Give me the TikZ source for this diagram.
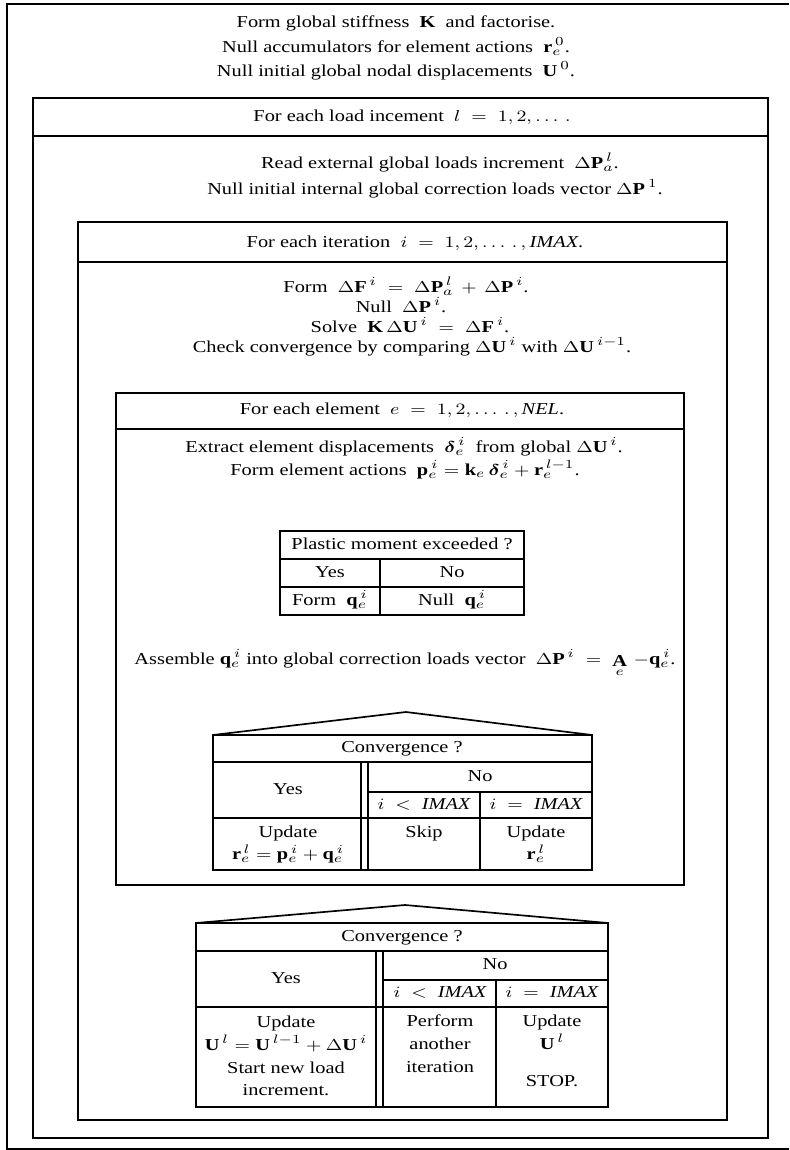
\documentclass[tikz,border=0pt]{standalone}
\usepackage{amsmath}
\usepackage{graphicx}
\usepackage{fontspec}
\setmainfont{Liberation Serif}
\newcommand{\bsy}[1]{\mathbf{#1}}
% the printed type is wide: stretch each text sideways
\newcommand{\wtxt}[1]{\scalebox{1.22}[1]{\begin{tabular}{@{}c@{}}#1\end{tabular}}}

\begin{document}
\begin{tikzpicture}[x=0.02cm,y=-0.02cm,
  frame/.style={line width=0.95pt},
  txt/.style={inner sep=1pt,font=\fontsize{9.5}{13}\selectfont,align=center}]
\useasboundingbox (0,0) rectangle (789,1150);
% nested loop boxes (outer one runs off the right edge)
\draw[frame] (789,4) -- (7,4) -- (7,1149) -- (789,1149);
\draw[frame] (33,98) rectangle (768,1138);
\draw[frame] (33,136) -- (768,136);
\draw[frame] (78,222) rectangle (727,1120);
\draw[frame] (78,262) -- (727,262);
\draw[frame] (116,393) rectangle (684,885);
\draw[frame] (116,429) -- (684,429);
% plastic moment table
\draw[frame] (280,531) rectangle (524,615);
\draw[frame] (280,559) -- (524,559) (280,587) -- (524,587) (380,559) -- (380,615);
% element convergence table
\draw[frame] (213,735) rectangle (592,870);
\draw[frame] (213,735) -- (406,712) -- (592,735);
\draw[frame] (213,762) -- (592,762) (213,818) -- (592,818);
\draw[frame] (361,762) -- (361,870) (368,762) -- (368,870);
\draw[frame] (368,792) -- (592,792) (480,792) -- (480,870);
% iteration convergence table
\draw[frame] (196,923) rectangle (608,1107);
\draw[frame] (196,923) -- (405,905) -- (608,923);
\draw[frame] (196,951) -- (608,951) (196,1007) -- (608,1007);
\draw[frame] (376,951) -- (376,1107) (383,951) -- (383,1107);
\draw[frame] (383,980) -- (608,980) (496,980) -- (496,1107);

% text
\node[txt] (init1) at (396,23) {\wtxt{Form global stiffness \ $\bsy{K}$ \ and factorise.}};
\node[txt] (init2) at (396,48) {\wtxt{Null accumulators for element actions \ $\bsy{r}_e^{\,0}$.}};
\node[txt] (init3) at (396,72) {\wtxt{Null initial global nodal displacements \ $\bsy{U}^{\,0}$.}};
\node[txt] (loadhd) at (412,117) {\wtxt{For each load incement \ $l \;=\; 1, 2, \ldots\,.$}};
\node[txt] (load1) at (440,164) {\wtxt{Read external global loads increment \ $\Delta\bsy{P}_a^{\,l}$.}};
\node[txt] (load2) at (435,190) {\wtxt{Null initial internal global correction loads vector $\Delta\bsy{P}^{\,1}$.}};
\node[txt] (iterhd) at (415,243) {\wtxt{For each iteration \ $i \;=\; 1, 2, \ldots\,.\,, \mathit{IMAX}$.}};
\node[txt] (iter1) at (406,288) {\wtxt{Form \ $\Delta\bsy{F}^{\,i} \;=\; \Delta\bsy{P}_a^{\,l} \,+\, \Delta\bsy{P}^{\,i}$.}};
\node[txt] (iter2) at (401,308) {\wtxt{Null \ $\Delta\bsy{P}^{\,i}$.}};
\node[txt] (iter3) at (410,328) {\wtxt{Solve \ $\bsy{K}\,\Delta\bsy{U}^{\,i} \;=\; \Delta\bsy{F}^{\,i}$.}};
\node[txt] (iter4) at (412,348) {\wtxt{Check convergence by comparing $\Delta\bsy{U}^{\,i}$ with $\Delta\bsy{U}^{\,i-1}$.}};
\node[txt] (elemhd) at (402,410) {\wtxt{For each element \ $e \;=\; 1, 2, \ldots\,.\,, \mathit{NEL}$.}};
\node[txt] (elem1) at (404,448) {\wtxt{Extract element displacements \ $\boldsymbol{\delta}_e^{\,i}$ \ from global $\Delta\bsy{U}^{\,i}$.}};
\node[txt] (elem2) at (405,471) {\wtxt{Form element actions \ $\bsy{p}_e^{\,i} = \bsy{k}_e\,\boldsymbol{\delta}_e^{\,i} + \bsy{r}_e^{\,l-1}$.}};
\node[txt] (pmq) at (402,545) {\wtxt{Plastic moment exceeded ?}};
\node[txt] (pmyes) at (330,573) {\wtxt{Yes}};
\node[txt] (pmno) at (452,573) {\wtxt{No}};
\node[txt] (pmform) at (330,601) {\wtxt{Form \ $\bsy{q}_e^{\,i}$}};
\node[txt] (pmnull) at (452,601) {\wtxt{Null \ $\bsy{q}_e^{\,i}$}};
\node[txt] (assem) at (405,663) {\wtxt{Assemble $\bsy{q}_e^{\,i}$ into global correction loads vector \ $\Delta\bsy{P}^{\,i} \;=\; \mathop{\bsy{A}}\limits_{e}\, -\bsy{q}_e^{\,i}$.}};
\node[txt] (cv1q) at (402,748) {\wtxt{Convergence ?}};
\node[txt] (cv1yes) at (288,790) {\wtxt{Yes}};
\node[txt] (cv1no) at (480,777) {\wtxt{No}};
\node[txt] (cv1lt) at (424,805) {\wtxt{$i \;<\; \mathit{IMAX}$}};
\node[txt] (cv1eq) at (536,805) {\wtxt{$i \;=\; \mathit{IMAX}$}};
\node[txt] (cv1a) at (288,844) {\wtxt{Update\\$\bsy{r}_e^{\,l} = \bsy{p}_e^{\,i} + \bsy{q}_e^{\,i}$}};
\node[txt] (cv1b) at (424,833) {\wtxt{Skip}};
\node[txt] (cv1c) at (536,844) {\wtxt{Update\\$\bsy{r}_e^{\,l}$}};
\node[txt] (cv2q) at (402,937) {\wtxt{Convergence ?}};
\node[txt] (cv2yes) at (286,979) {\wtxt{Yes}};
\node[txt] (cv2no) at (495,965) {\wtxt{No}};
\node[txt] (cv2lt) at (440,993) {\wtxt{$i \;<\; \mathit{IMAX}$}};
\node[txt] (cv2eq) at (552,993) {\wtxt{$i \;=\; \mathit{IMAX}$}};
\node[txt] (cv2a) at (286,1057) {\wtxt{Update\\$\bsy{U}^{\,l} = \bsy{U}^{\,l-1} + \Delta\bsy{U}^{\,i}$\\Start new load\\increment.}};
\node[txt] (cv2b) at (440,1045) {\wtxt{Perform\\another\\iteration}};
\node[txt] (cv2c) at (552,1052) {\wtxt{Update\\$\bsy{U}^{\,l}$\\[8pt]STOP.}};
\end{tikzpicture}
\end{document}
